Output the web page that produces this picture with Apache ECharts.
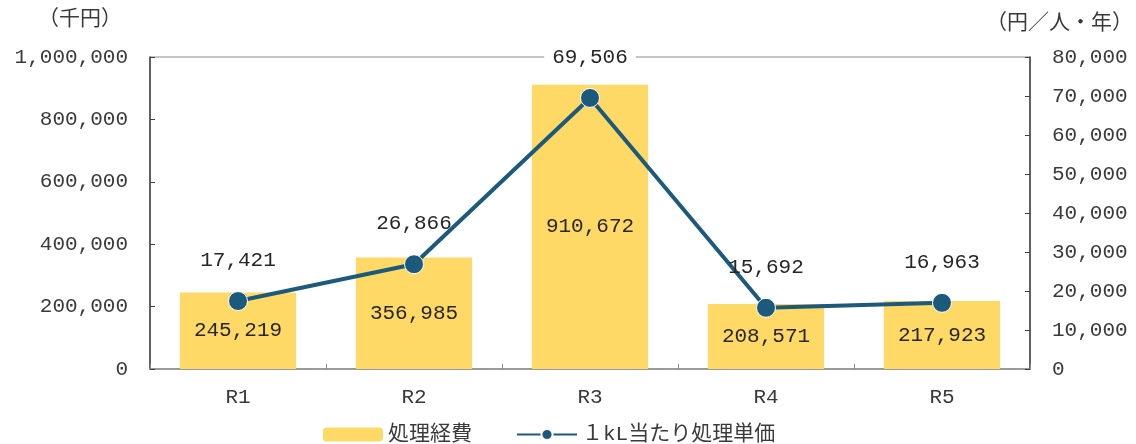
<!DOCTYPE html>
<html>
<head>
<meta charset="utf-8">
<script src="https://cdn.jsdelivr.net/npm/echarts@6/dist/echarts.min.js"></script>
<style>
  html, body { margin: 0; padding: 0; background: #fff; }
  #chart { width: 1136px; height: 444px; }
</style>
</head>
<body>
<div id="chart"></div>
<script>
// 年度別の処理経費（千円）と 1kL 当たり処理単価（円/人・年）
const categories = ['R1', 'R2', 'R3', 'R4', 'R5'];
const costValues = [245219, 356985, 910672, 208571, 217923];
const unitPriceValues = [17421, 26866, 69506, 15692, 16963];
const leftTicks = { min: 0, max: 1000000, interval: 200000 };
const rightTicks = { min: 0, max: 80000, interval: 10000 };

const FONT = '"Liberation Mono", "Noto Sans CJK JP", monospace';
const TEXT = '#3a3a3a';
const SIZE = 21;
const fmt = v => Number(v).toLocaleString('en-US');

// The unit-price label that sits on the top border gets a white backing
const priceData = unitPriceValues.map((v, i) => {
  const item = { value: v };
  if (v / rightTicks.max > 0.8) {
    item.label = { backgroundColor: '#ffffff', padding: [0, 8] };
  }
  return item;
});

const chart = echarts.init(document.getElementById('chart'), null, { renderer: 'canvas' });

chart.setOption({
  animation: false,
  textStyle: { fontFamily: FONT, color: TEXT },
  grid: {
    left: 150, right: 106, top: 57, bottom: 75,
    show: true, borderWidth: 1, borderColor: '#8c8c8c', backgroundColor: 'transparent'
  },
  legend: {
    left: 318, top: 419,
    itemWidth: 60, itemHeight: 14, itemGap: 44,
    textStyle: { fontFamily: FONT, fontSize: SIZE, color: TEXT },
    data: ['処理経費', '１kL当たり処理単価']
  },
  graphic: [
    { type: 'text', left: 38, top: 9, style: { text: '（千円）', font: SIZE + 'px ' + FONT, fill: TEXT } },
    { type: 'text', left: 986, top: 13, style: { text: '（円／人・年）', font: SIZE + 'px ' + FONT, fill: TEXT } }
  ],
  xAxis: {
    type: 'category',
    data: categories,
    boundaryGap: true,
    axisLine: { lineStyle: { color: '#8c8c8c', width: 1.5 } },
    axisTick: { show: true, inside: true, length: 5, lineStyle: { color: '#8c8c8c' } },
    axisLabel: { fontSize: SIZE, color: TEXT, margin: 18, fontFamily: FONT }
  },
  yAxis: [
    {
      type: 'value',
      min: leftTicks.min, max: leftTicks.max, interval: leftTicks.interval,
      axisLine: { show: true, lineStyle: { color: '#404040', width: 1.5 } },
      axisTick: { show: true, inside: true, length: 5, lineStyle: { color: '#404040' } },
      splitLine: { show: false },
      axisLabel: { fontSize: SIZE, color: TEXT, margin: 22, fontFamily: FONT, formatter: fmt }
    },
    {
      type: 'value',
      min: rightTicks.min, max: rightTicks.max, interval: rightTicks.interval,
      axisLine: { show: true, lineStyle: { color: '#404040', width: 1.5 } },
      axisTick: { show: true, inside: true, length: 5, lineStyle: { color: '#404040' } },
      splitLine: { show: false },
      axisLabel: { fontSize: SIZE, color: TEXT, margin: 22, fontFamily: FONT, formatter: fmt }
    }
  ],
  series: [
    {
      name: '処理経費',
      type: 'bar',
      yAxisIndex: 0,
      data: costValues,
      barWidth: '66%',
      itemStyle: { color: '#FFD966' },
      label: {
        show: true, position: 'inside',
        fontSize: SIZE, color: '#262626', fontFamily: FONT,
        formatter: p => fmt(p.value)
      }
    },
    {
      name: '１kL当たり処理単価',
      type: 'line',
      yAxisIndex: 1,
      data: priceData,
      symbol: 'circle',
      symbolSize: 19,
      lineStyle: { color: '#1B5A7D', width: 4 },
      itemStyle: { color: '#1B5A7D', borderColor: '#ffffff', borderWidth: 1 },
      label: {
        show: true, position: 'top', distance: 20,
        fontSize: SIZE, color: '#262626', fontFamily: FONT,
        formatter: p => fmt(p.value)
      },
      z: 5
    }
  ]
});
</script>
</body>
</html>
